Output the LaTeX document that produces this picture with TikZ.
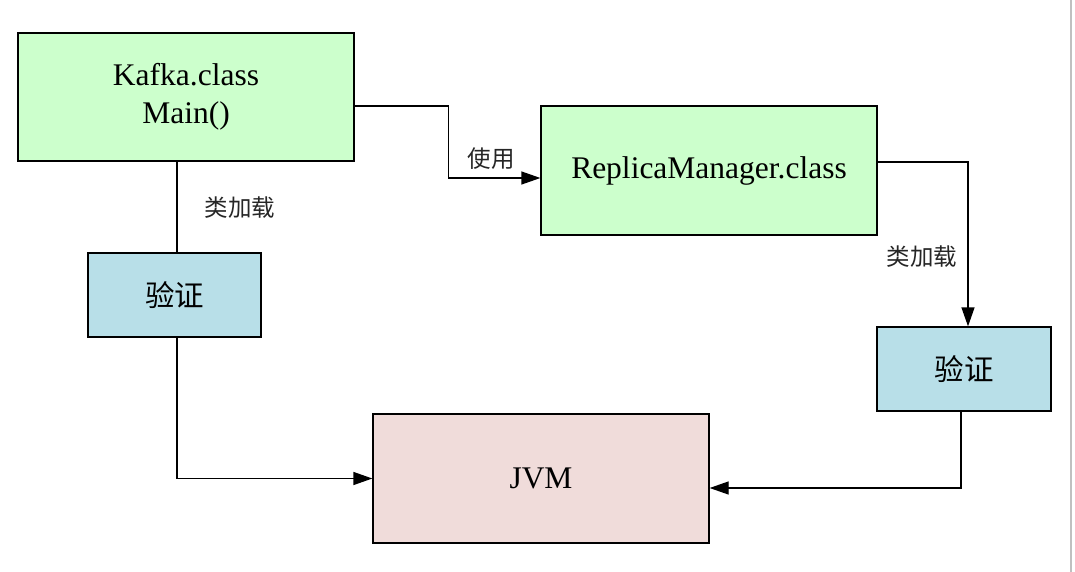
\documentclass[tikz,border=0pt]{standalone}
\usepackage{fontspec}
\setmainfont{Liberation Serif}
\newfontfamily\cjk{Noto Sans CJK SC}
\usetikzlibrary{arrows.meta}
\definecolor{boxgreen}{HTML}{CCFFCC}
\definecolor{boxblue}{HTML}{B8DFE8}
\definecolor{boxpink}{HTML}{F0DCDA}
\definecolor{edgegray}{HTML}{C0C0C0}
\tikzset{
  box/.style={draw=black, line width=1.3pt, inner sep=0pt, align=center,
    font=\fontsize{31.5}{38}\selectfont},
  cjkbox/.style={box, font=\cjk\fontsize{29.5}{34}\selectfont},
  lbl/.style={font=\cjk\fontsize{23.5}{26}\selectfont, inner sep=0pt, text=black!85},
  arr/.style={line width=1.3pt, -{Triangle[length=19pt,width=13pt]}},
  ln/.style={line width=1.3pt}
}
\begin{document}
\begin{tikzpicture}[x=1pt,y=-1pt]
\useasboundingbox (0,0) rectangle (1075,572);
\fill[white] (0,0) rectangle (1075,572);
\draw[edgegray, line width=1.5pt] (1071,0) -- (1071,572);

\node[box, fill=boxgreen, minimum width=336pt, minimum height=128pt] (kafka) at (186,97) {\raisebox{-2.5pt}{\begin{tabular}{@{}c@{}}Kafka.class\\Main()\end{tabular}}};
\node[box, fill=boxgreen, minimum width=336pt, minimum height=129pt] (replica) at (709,170.5) {\raisebox{-2pt}{ReplicaManager.class}};
\node[cjkbox, fill=boxblue, minimum width=173pt, minimum height=84pt] (vl) at (174.5,295) {验证};
\node[cjkbox, fill=boxblue, minimum width=174pt, minimum height=84pt] (vr) at (964,369) {验证};
\node[box, fill=boxpink, minimum width=336pt, minimum height=129pt] (jvm) at (541,478.5) {\raisebox{-2pt}{JVM}};

\draw[arr] ([yshift=-9pt]kafka.east) -- ++(94,0) |- ([yshift=-7.5pt]replica.west);
\node[lbl] (l1) at (491,159) {使用};

\draw[ln] ([xshift=2.5pt]vl.north) -- ([xshift=2.5pt]vl.north |- kafka.south);
\node[lbl] (l2) at (240,208) {类加载};

\draw[arr] ([xshift=2.5pt]vl.south) |- (jvm.west);

\draw[arr] ([yshift=8.5pt]replica.east) -| ([xshift=4pt]vr.north);
\node[lbl] (l3) at (922,257) {类加载};

\draw[arr] ([xshift=-3pt]vr.south) |- ([yshift=-9.5pt]jvm.east);
\end{tikzpicture}
\end{document}
